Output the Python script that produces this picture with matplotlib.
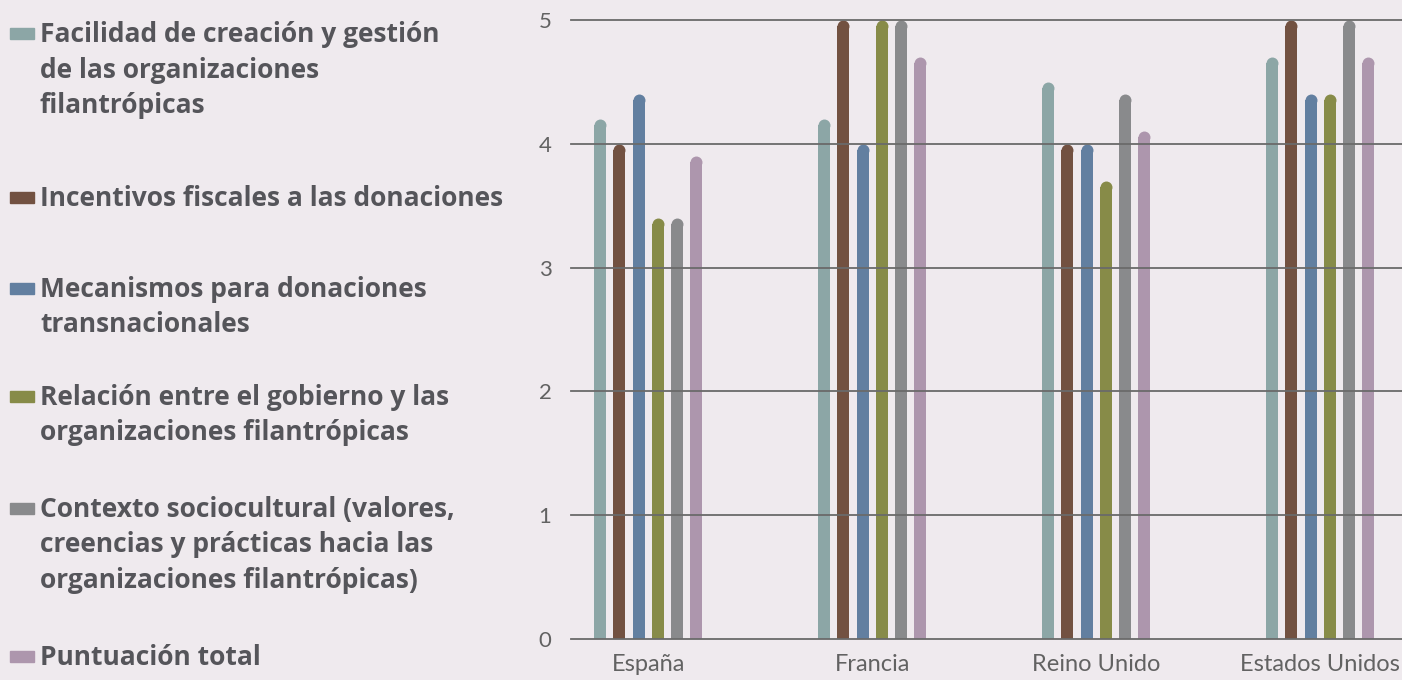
import matplotlib
matplotlib.use("Agg")
import matplotlib.pyplot as plt
from matplotlib.patches import Rectangle
import numpy as np

plt.rcParams['font.family'] = ['Lato', 'DejaVu Sans']

paises = ["España", "Francia", "Reino Unido", "Estados Unidos"]
series = [
    "Facilidad de creación y gestión\nde las organizaciones\nfilantrópicas",
    "Incentivos fiscales a las donaciones",
    "Mecanismos para donaciones\ntransnacionales",
    "Relación entre el gobierno y las\norganizaciones filantrópicas",
    "Contexto sociocultural (valores,\ncreencias y prácticas hacia las\norganizaciones filantrópicas)",
    "Puntuación total",
]
facilidad = [4.2, 4.2, 4.5, 4.7]
incentivos = [4.0, 5.0, 4.0, 5.0]
mecanismos = [4.4, 4.0, 4.0, 4.4]
relacion = [3.4, 5.0, 3.7, 4.4]
contexto = [3.4, 5.0, 4.4, 5.0]
total = [3.9, 4.7, 4.1, 4.7]
valores = [facilidad, incentivos, mecanismos, relacion, contexto, total]
colores = ["#8ca6a6", "#725141", "#627fa0", "#878b48", "#898a8c", "#ad96ad"]

bg = "#efeaee"
fig = plt.figure(figsize=(14.02, 6.8), dpi=100, facecolor=bg)
ax = fig.add_axes([571 / 1402, 41 / 680, 831 / 1402, 619 / 680])
ax.set_facecolor(bg)

x = np.arange(len(paises))
paso = 0.0857
ancho = 0.0536
ax.set_xlim(-0.345, 3.365)
ax.set_ylim(0, 5)
r = 6 / 124  # radio del remate redondeado en unidades de datos

for i, (vals, col) in enumerate(zip(valores, colores)):
    xs = x + (i - 2.5) * paso
    vals = np.array(vals)
    ax.bar(xs, vals - r, width=ancho, color=col, zorder=2)
    ax.plot(xs, vals - r, 'o', ms=8.6, color=col, mec='none', zorder=2)

for y in range(6):
    ax.axhline(y, color="#6a6a6a", lw=1.3, zorder=3, clip_on=False)

for s in ax.spines.values():
    s.set_visible(False)
ax.set_xticks(x)
ax.set_xticklabels(paises)
ax.set_yticks(range(6))
ax.tick_params(length=0, labelsize=16, labelcolor="#626262")
ax.tick_params(axis='x', pad=11, labelsize=17)
ax.tick_params(axis='y', pad=14)

# leyenda a la izquierda, una línea de texto cada vez
base_y = [42, 206, 297, 405, 517, 665]
for nombre, col, by in zip(series, colores, base_y):
    fig.patches.append(Rectangle((10 / 1402, 1 - (by - 3) / 680), 24 / 1402, 11 / 680,
                                 transform=fig.transFigure, color=col))
    for k, linea in enumerate(nombre.split("\n")):
        fig.text(40 / 1402, 1 - (by + 35.5 * k) / 680, linea, fontsize=19,
                 fontweight='bold', family=['Open Sans', 'DejaVu Sans'],
                 color="#55555a", va='baseline', ha='left')

fig.savefig("out.png", dpi=100, facecolor=bg)
